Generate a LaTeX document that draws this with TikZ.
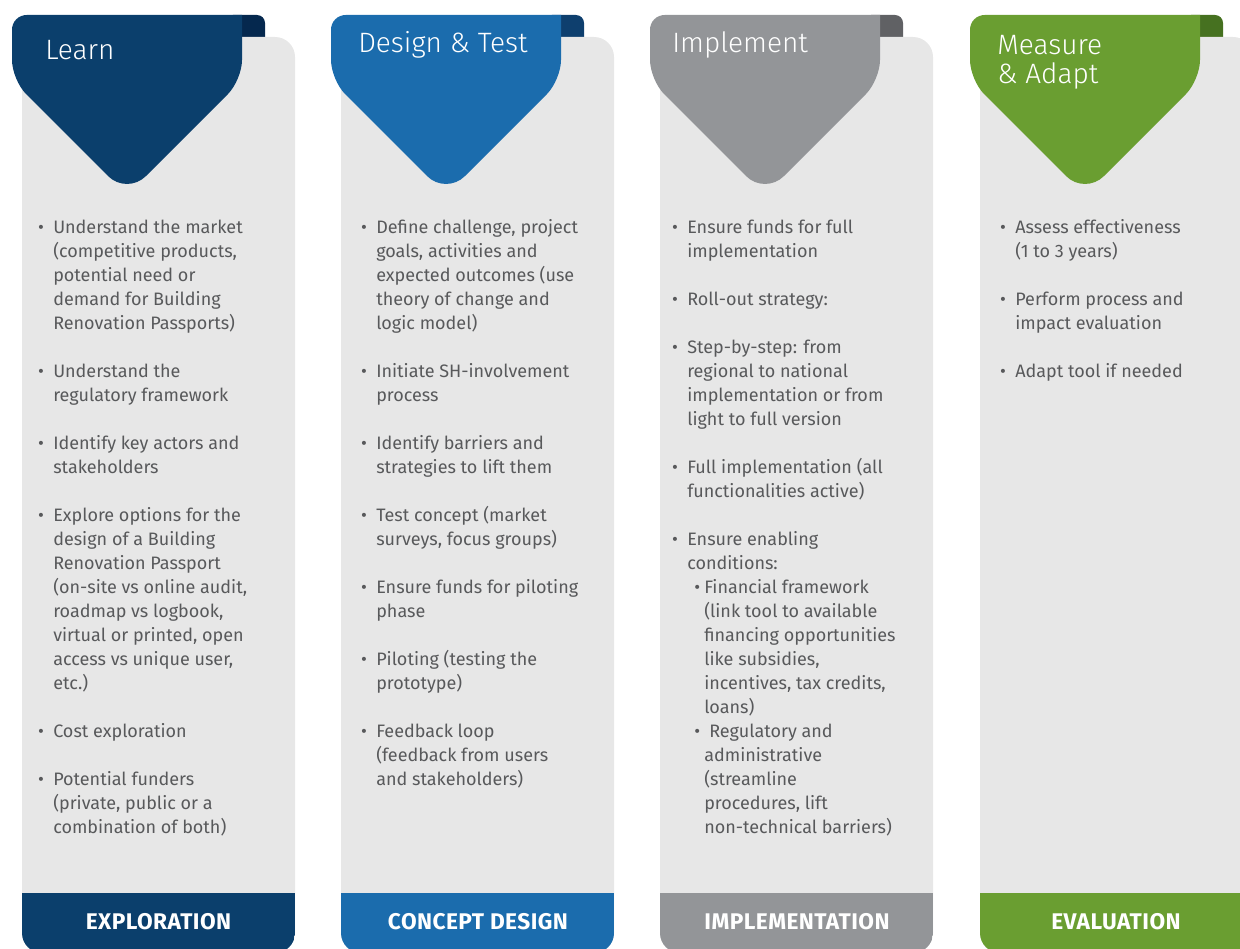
\documentclass[tikz,border=0pt]{standalone}
\usepackage{fontspec}
\setmainfont{Fira Sans}
\newfontfamily\titlefont{Fira Sans Light}
\usetikzlibrary{positioning}

\definecolor{learnblue}{HTML}{0B3F6C}
\definecolor{learntab}{HTML}{05284E}
\definecolor{designblue}{HTML}{1B6CAD}
\definecolor{designtab}{HTML}{0E3F6E}
\definecolor{implgray}{HTML}{939598}
\definecolor{impltab}{HTML}{606164}
\definecolor{evalgreen}{HTML}{6A9E31}
\definecolor{evaltab}{HTML}{467120}
\definecolor{panelgray}{HTML}{E7E7E7}
\definecolor{textgray}{HTML}{58595B}

\newcommand\bul{\makebox[0pt][r]{\textbullet\hspace{7pt}}}
\newcommand\subind{\hspace*{12.75pt}}
\newcommand\subbul{\subind\makebox[0pt][r]{\textbullet\hspace{3pt}}}

\begin{document}
\begin{tikzpicture}[x=0.75pt,y=-0.75pt,
  title/.style={text=white, font=\titlefont\fontsize{21pt}{21.75pt}\selectfont,
    anchor=base west, inner sep=0pt, align=left},
  stage/.style={text=white, font=\bfseries\addfontfeature{LetterSpace=2}\fontsize{17pt}{17pt}\selectfont,
    anchor=base, inner sep=0pt},
  steps/.style={text=textgray, font=\fontsize{13.5pt}{18pt}\selectfont,
    anchor=base west, inner sep=0pt, align=left}]

\useasboundingbox (0,0) rectangle (1240,949);
\clip (0,0) rectangle (1240,949);

% columns: tab, panel, band, header
\foreach \ox/\main/\tab in {0/learnblue/learntab, 319/designblue/designtab,
    638/implgray/impltab, 958/evalgreen/evaltab}{
  \begin{scope}[shift={(\ox,0)}]
    \fill[\tab, rounded corners=6pt] (225,15) rectangle (265,50);
    \fill[panelgray, rounded corners=15pt] (22,37) rectangle (295,953);
    \begin{scope}
      \clip[rounded corners=15pt] (22,37) rectangle (295,953);
      \fill[\main] (22,893) rectangle (295,953);
    \end{scope}
    \fill[\main] (12,50) [rounded corners=11pt] -- (12,15) [sharp corners] -- (242,15)
      -- (242,40) [rounded corners=15pt] -- (242,80) [rounded corners=20pt] -- (127,195)
      [rounded corners=15pt] -- (12,80) [sharp corners] -- cycle;
  \end{scope}
}

% headers (base = last line)
\node[title] (learn) at (45,60) {Learn};
\node[title] (design) at (358,53) {Design \& Test};
\node[title] (implement) at (672,53) {Implement};
\node[title] (measure) at (997,84) {Measure\\\& Adapt};

% stages
\node[stage] (exploration) at (158.5,929) {EXPLORATION};
\node[stage] (concept) at (478,929) {CONCEPT DESIGN};
\node[stage] (implementation) at (797,929) {IMPLEMENTATION};
\node[stage] (evaluation) at (1116,929) {EVALUATION};

% steps (base = last line, first line at 233)
\node[steps] (learnsteps) at (53,833) {%
\bul Understand the market\\
(competitive products,\\
potential need or\\
demand for Building\\
Renovation Passports)\\[18pt]
\bul Understand the\\
regulatory framework\\[18pt]
\bul Identify key actors and\\
stakeholders\\[18pt]
\bul Explore options for the\\
design of a Building\\
Renovation Passport\\
(on-site vs online audit,\\
roadmap vs logbook,\\
virtual or printed, open\\
access vs unique user,\\
etc.)\\[18pt]
\bul Cost exploration\\[18pt]
\bul Potential funders\\
(private, public or a\\
combination of both)};

\node[steps] (designsteps) at (376,785) {%
\bul Define challenge, project\\
goals, activities and\\
expected outcomes (use\\
theory of change and\\
logic model)\\[18pt]
\bul Initiate SH-involvement\\
process\\[18pt]
\bul Identify barriers and\\
strategies to lift them\\[18pt]
\bul Test concept (market\\
surveys, focus groups)\\[18pt]
\bul Ensure funds for piloting\\
phase\\[18pt]
\bul Piloting (testing the\\
prototype)\\[18pt]
\bul Feedback loop\\
(feedback from users\\
and stakeholders)};

\node[steps] (implsteps) at (687,833) {%
\bul Ensure funds for full\\
implementation\\[18pt]
\bul Roll-out strategy:\\[18pt]
\bul Step-by-step: from\\
regional to national\\
implementation or from\\
light to full version\\[18pt]
\bul Full implementation (all\\
functionalities active)\\[18pt]
\bul Ensure enabling\\
conditions:\\
\subbul Financial framework\\
\subind(link tool to available\\
\subind financing opportunities\\
\subind like subsidies,\\
\subind incentives, tax credits,\\
\subind loans)\\
\subbul\hspace{3.75pt}Regulatory and\\
\subind administrative\\
\subind(streamline\\
\subind procedures, lift\\
\subind non-technical barriers)};

\node[steps] (evalsteps) at (1015,377) {%
\bul Assess effectiveness\\
(1 to 3 years)\\[18pt]
\bul Perform process and\\
impact evaluation\\[18pt]
\bul Adapt tool if needed};
\end{tikzpicture}
\end{document}
